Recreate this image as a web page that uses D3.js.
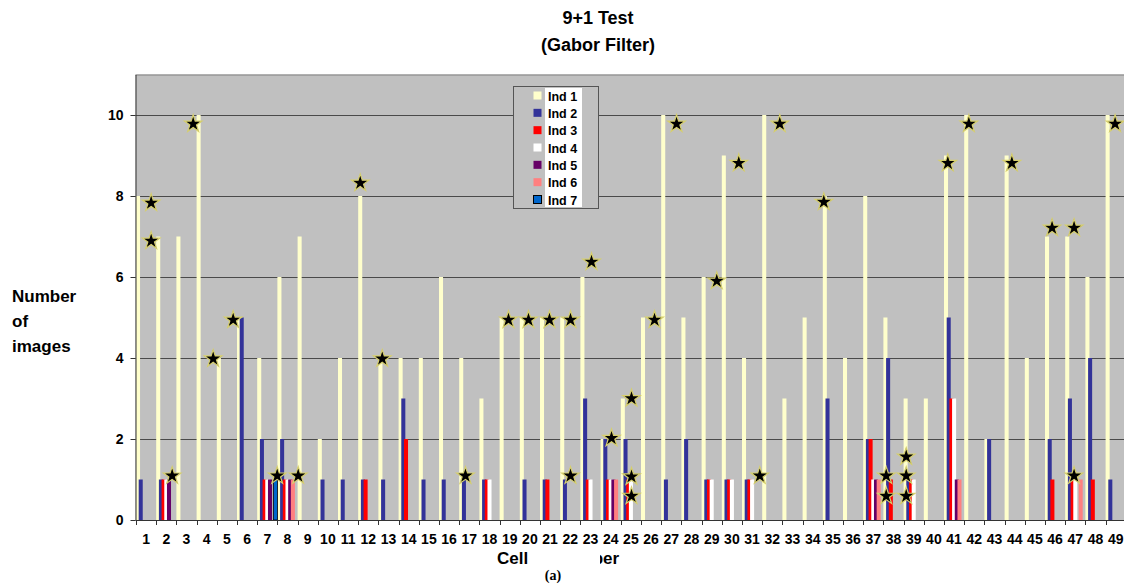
<!DOCTYPE html>
<html>
<head>
<meta charset="utf-8">
<script src="https://cdn.jsdelivr.net/npm/d3@7/dist/d3.min.js"></script>
<style>
  html, body { margin: 0; padding: 0; background: #ffffff; }
  svg { display: block; font-family: "Liberation Sans", Arial, sans-serif; }
</style>
</head>
<body>
<svg id="chart" width="1124" height="584"></svg>
<script>
// Cell numbers on the category axis
const cells = [1, 2, 3, 4, 5, 6, 7, 8, 9, 10, 11, 12, 13, 14, 15, 16, 17, 18, 19, 20,
  21, 22, 23, 24, 25, 26, 27, 28, 29, 30, 31, 32, 33, 34, 35, 36, 37, 38, 39, 40,
  41, 42, 43, 44, 45, 46, 47, 48, 49];

const seriesNames = ["Ind 1", "Ind 2", "Ind 3", "Ind 4", "Ind 5", "Ind 6", "Ind 7"];
const seriesColors = ["#FFFFCC", "#333399", "#FF0000", "#FFFFFF", "#660066", "#FF8080", "#0066CC"];

// Number of images per cell, one array per individual
const ind1 = [8, 7, 7, 10, 4, 5, 4, 6, 7, 2, 4, 8, 4, 4, 4, 6, 4, 3, 5, 5,
  5, 5, 6, 2, 3, 5, 10, 5, 6, 9, 4, 10, 3, 5, 8, 4, 8, 5, 3, 3,
  9, 10, 2, 9, 4, 7, 7, 6, 10];
const ind2 = [1, 1, 0, 0, 0, 5, 2, 2, 0, 1, 1, 1, 1, 3, 1, 1, 1, 1, 0, 1,
  1, 1, 3, 2, 2, 0, 1, 2, 1, 1, 1, 0, 0, 0, 3, 0, 2, 4, 1, 0,
  5, 0, 2, 0, 0, 2, 3, 4, 1];
const ind3 = [0, 1, 0, 0, 0, 0, 1, 1, 0, 0, 0, 1, 0, 2, 0, 0, 0, 1, 0, 0,
  1, 0, 1, 1, 1, 0, 0, 0, 1, 1, 1, 0, 0, 0, 0, 0, 2, 1, 1, 0,
  3, 0, 0, 0, 0, 1, 1, 1, 0];
const ind4 = [0, 1, 0, 0, 0, 0, 1, 1, 0, 0, 0, 0, 0, 0, 0, 0, 0, 1, 0, 0,
  0, 0, 1, 1, 1, 0, 0, 0, 1, 1, 1, 0, 0, 0, 0, 0, 1, 0, 1, 0,
  3, 0, 0, 0, 0, 0, 1, 0, 0];
const ind5 = [0, 1, 0, 0, 0, 0, 1, 1, 0, 0, 0, 0, 0, 0, 0, 0, 0, 0, 0, 0,
  0, 0, 0, 1, 0, 0, 0, 0, 0, 0, 0, 0, 0, 0, 0, 0, 1, 0, 0, 0,
  1, 0, 0, 0, 0, 0, 0, 0, 0];
const ind6 = [0, 0, 0, 0, 0, 0, 0, 1, 0, 0, 0, 0, 0, 0, 0, 0, 0, 0, 0, 0,
  0, 0, 0, 1, 0, 0, 0, 0, 0, 0, 0, 0, 0, 0, 0, 0, 1, 0, 0, 0,
  1, 0, 0, 0, 0, 0, 1, 0, 0];
const ind7 = [0, 0, 0, 0, 0, 0, 1, 0, 0, 0, 0, 0, 0, 0, 0, 0, 0, 0, 0, 0,
  0, 0, 0, 0, 0, 0, 0, 0, 0, 0, 0, 0, 0, 0, 0, 0, 0, 0, 0, 0,
  0, 0, 0, 0, 0, 0, 0, 0, 0];
const seriesValues = [ind1, ind2, ind3, ind4, ind5, ind6, ind7];

// Star markers: position along the cell axis and height in images
const starCell = [1.25, 1.25, 2.29, 3.33, 4.32, 5.31, 7.49, 8.53, 11.60, 12.69,
  16.81, 18.94, 19.93, 20.97, 22.01, 22.01, 23.05, 24.04, 25.03, 25.03,
  25.03, 26.17, 27.26, 29.25, 30.34, 31.38, 32.37, 34.55, 37.64, 37.64,
  38.63, 38.63, 38.63, 40.69, 41.73, 43.86, 45.85, 46.94, 46.94, 48.97];
const starValue = [7.83, 6.89, 1.09, 9.78, 3.98, 4.94, 1.09, 1.09, 8.32, 3.98,
  1.09, 4.94, 4.94, 4.94, 4.94, 1.09, 6.37, 2.02, 3.00, 1.07,
  0.59, 4.94, 9.78, 5.90, 8.81, 1.09, 9.78, 7.85, 1.09, 0.59,
  1.56, 1.09, 0.59, 8.81, 9.78, 8.81, 7.21, 7.21, 1.09, 9.78];

const yTicks = [0, 2, 4, 6, 8, 10];

const svg = d3.select("#chart");
const plot = { left: 135.5, right: 1125.8, top: 74.5, bottom: 520 };

const x0 = d3.scaleBand().domain(cells).range([plot.left + 0.5, plot.right]).padding(0);
const band = x0.bandwidth();
const barW = band * 0.2;
// bars within a cell overlap: each one steps a little to the right of the previous
const x1 = d3.scalePoint().domain(seriesNames).range([0, band - barW]);
const y = d3.scaleLinear().domain([0, 11]).range([plot.bottom, plot.top]);
const xStar = d3.scaleLinear().domain([1, 49])
  .range([x0(1) + band / 2, x0(49) + band / 2]);

// plot area
svg.append("rect")
  .attr("x", plot.left).attr("y", plot.top)
  .attr("width", plot.right - plot.left).attr("height", plot.bottom - plot.top)
  .attr("fill", "#C0C0C0");
svg.append("line")
  .attr("x1", plot.left).attr("x2", plot.right)
  .attr("y1", plot.top + 0.5).attr("y2", plot.top + 0.5)
  .attr("stroke", "#808080").attr("stroke-width", 1);

// horizontal grid
svg.append("g").selectAll("line")
  .data(yTicks.filter(d => d > 0))
  .join("line")
  .attr("x1", plot.left).attr("x2", plot.right)
  .attr("y1", d => Math.round(y(d)) + 0.5).attr("y2", d => Math.round(y(d)) + 0.5)
  .attr("stroke", "#4a4a4a").attr("stroke-width", 1);

// bars, one group per individual so later individuals sit on top
const barData = seriesNames.map((name, si) =>
  cells.map((c, ci) => ({ name, si, cell: c, value: seriesValues[si][ci] })));

svg.append("g").selectAll("g")
  .data(barData)
  .join("g")
  .attr("fill", (d, i) => seriesColors[i])
  .attr("stroke", (d, i) => i === 6 ? "#000000" : "none")
  .attr("stroke-width", 0.8)
  .selectAll("rect")
  .data(d => d.filter(v => v.value > 0))
  .join("rect")
  .attr("x", d => x0(d.cell) + x1(d.name))
  .attr("y", d => y(d.value))
  .attr("width", barW)
  .attr("height", d => y(0) - y(d.value));

// y axis
const yAxis = svg.append("g")
  .attr("transform", `translate(${plot.left},0)`)
  .call(d3.axisLeft(y).tickValues(yTicks).tickSize(5).tickPadding(7).tickSizeOuter(0));
yAxis.select(".domain").attr("stroke", "#333333");
yAxis.selectAll(".tick line").attr("stroke", "#333333");
yAxis.selectAll(".tick text")
  .attr("font-family", "'Liberation Sans', Arial, sans-serif")
  .attr("font-size", 14).attr("font-weight", "bold").attr("fill", "#000");

// x axis: baseline, boundary ticks and centred cell labels
svg.append("line")
  .attr("x1", plot.left).attr("x2", plot.right)
  .attr("y1", plot.bottom + 0.5).attr("y2", plot.bottom + 0.5)
  .attr("stroke", "#333333");
svg.append("g").selectAll("line")
  .data(cells)
  .join("line")
  .attr("x1", d => Math.round(x0(d)) + 0.5).attr("x2", d => Math.round(x0(d)) + 0.5)
  .attr("y1", plot.bottom).attr("y2", plot.bottom + 5)
  .attr("stroke", "#333333");
const xAxis = svg.append("g")
  .attr("transform", `translate(0,${plot.bottom})`)
  .call(d3.axisBottom(x0).tickSize(0).tickPadding(14));
xAxis.select(".domain").remove();
xAxis.selectAll(".tick text")
  .attr("font-family", "'Liberation Sans', Arial, sans-serif")
  .attr("font-size", 14).attr("font-weight", "bold").attr("fill", "#000");

// star markers
const star = d3.symbol().type(d3.symbolStar).size(95);
svg.append("g").selectAll("path")
  .data(starCell.map((c, i) => ({ c, v: starValue[i] })))
  .join("path")
  .attr("d", star)
  .attr("transform", d => `translate(${xStar(d.c)},${y(d.v)})`)
  .attr("fill", "#000000")
  .attr("stroke", "#d6cf6e")
  .attr("stroke-width", 1.2);

// legend
const lg = svg.append("g");
lg.append("rect")
  .attr("x", 513.5).attr("y", 86.5).attr("width", 85).attr("height", 122)
  .attr("fill", "#C0C0C0").attr("stroke", "#555555");
lg.append("rect")
  .attr("x", 545).attr("y", 88).attr("width", 37).attr("height", 119)
  .attr("fill", "#FFFFFF");
const legendRow = d3.scaleLinear().domain([0, 6]).range([96, 200]);
const lrow = lg.selectAll("g.row")
  .data(seriesNames)
  .join("g")
  .attr("class", "row")
  .attr("transform", (d, i) => `translate(0,${legendRow(i)})`);
lrow.append("rect")
  .attr("x", 533.5).attr("y", -4.5).attr("width", 8).attr("height", 8)
  .attr("fill", (d, i) => seriesColors[i])
  .attr("stroke", (d, i) => i === 6 ? "#000" : "none");
lrow.append("text")
  .attr("x", 548).attr("y", 4.5)
  .attr("font-size", 12.5).attr("font-weight", "bold")
  .text(d => d);

// titles
svg.append("text")
  .attr("x", 598).attr("y", 24).attr("text-anchor", "middle")
  .attr("font-size", 18).attr("font-weight", "bold")
  .text("9+1 Test");
svg.append("text")
  .attr("x", 598).attr("y", 51).attr("text-anchor", "middle")
  .attr("font-size", 18).attr("font-weight", "bold")
  .text("(Gabor Filter)");

const yTitle = svg.append("text")
  .attr("x", 12).attr("font-size", 17).attr("font-weight", "bold");
["Number", "of", "images"].forEach((t, i) => {
  yTitle.append("tspan").attr("x", 12).attr("y", 302 + i * 25).text(t);
});

svg.append("text")
  .attr("x", 497).attr("y", 564)
  .attr("font-size", 17).attr("font-weight", "bold")
  .style("word-spacing", "22px")
  .text("Cell Number");
// caption box laid over the middle of the axis title
svg.append("rect")
  .attr("x", 530).attr("y", 549).attr("width", 70).attr("height", 35)
  .attr("fill", "#FFFFFF");
svg.append("text")
  .attr("x", 553).attr("y", 580).attr("text-anchor", "middle")
  .attr("font-family", "'Liberation Serif', 'Times New Roman', serif")
  .attr("font-size", 14).attr("font-weight", "bold")
  .text("(a)");
</script>
</body>
</html>
